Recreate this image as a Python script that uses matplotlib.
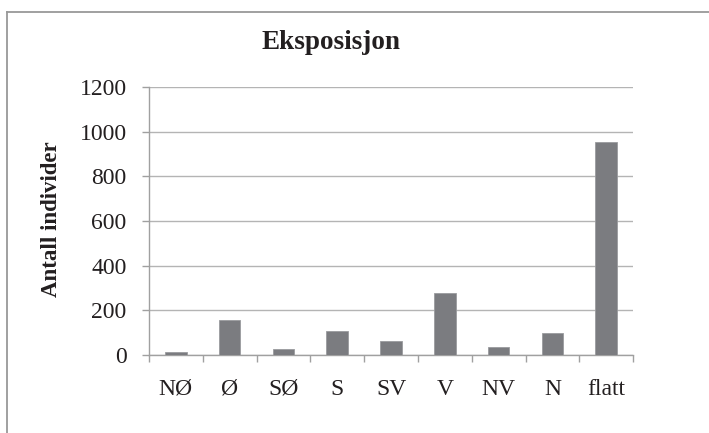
import matplotlib.pyplot as plt
import numpy as np
from matplotlib.lines import Line2D

# Data
categories = ["NØ", "Ø", "SØ", "S", "SV", "V", "NV", "N", "flatt"]
counts = [15, 156, 27, 107, 64, 279, 34, 97, 953]
y_ticks = [0, 200, 400, 600, 800, 1000, 1200]

plt.rcParams["font.family"] = ["Liberation Serif", "DejaVu Serif"]
text_col = "#231f20"

fig = plt.figure(figsize=(7.09, 4.33), dpi=100)
ax = fig.add_axes([0.210, 0.180, 0.683, 0.619])

x = np.arange(len(categories))
ax.bar(x, counts, width=0.4, color="#7b7c80", edgecolor="#9a9b9e", linewidth=0.6, zorder=3)

ax.set_xlim(-0.5, len(categories) - 0.5)
ax.set_ylim(0, 1200)
ax.set_yticks(y_ticks)
ax.yaxis.grid(True, color="#b4b4b4", linewidth=1.0, zorder=0)

# category labels in the middle, tick marks between categories
ax.set_xticks(x)
ax.set_xticklabels(categories)
ax.set_xticks(np.arange(-0.5, len(categories)), minor=True)
ax.tick_params(axis="x", which="major", length=0, pad=17, labelsize=17, labelcolor=text_col)
ax.tick_params(axis="x", which="minor", length=5, width=1.0, color="#a0a0a0", direction="out")
ax.tick_params(axis="y", length=5, width=1.0, color="#a0a0a0", pad=11, labelsize=17,
               labelcolor=text_col)

for side in ["top", "right"]:
    ax.spines[side].set_visible(False)
for side in ["left", "bottom"]:
    ax.spines[side].set_color("#a0a0a0")
    ax.spines[side].set_linewidth(1.0)

fig.text(0.467, 0.903, "Eksposisjon", ha="center", va="center", fontsize=19.5,
         fontweight="bold", color=text_col)
fig.text(0.072, 0.494, "Antall individer", ha="center", va="center", rotation=90,
         fontsize=16.5, fontweight="bold", color=text_col)

# chart area border (only left and top visible in the crop)
fig.add_artist(Line2D([0.0099, 0.0099], [0.0, 0.972], color="#999999", linewidth=1.3))
fig.add_artist(Line2D([0.0099, 1.0], [0.972, 0.972], color="#999999", linewidth=1.3))

fig.savefig("out.png", dpi=100)
